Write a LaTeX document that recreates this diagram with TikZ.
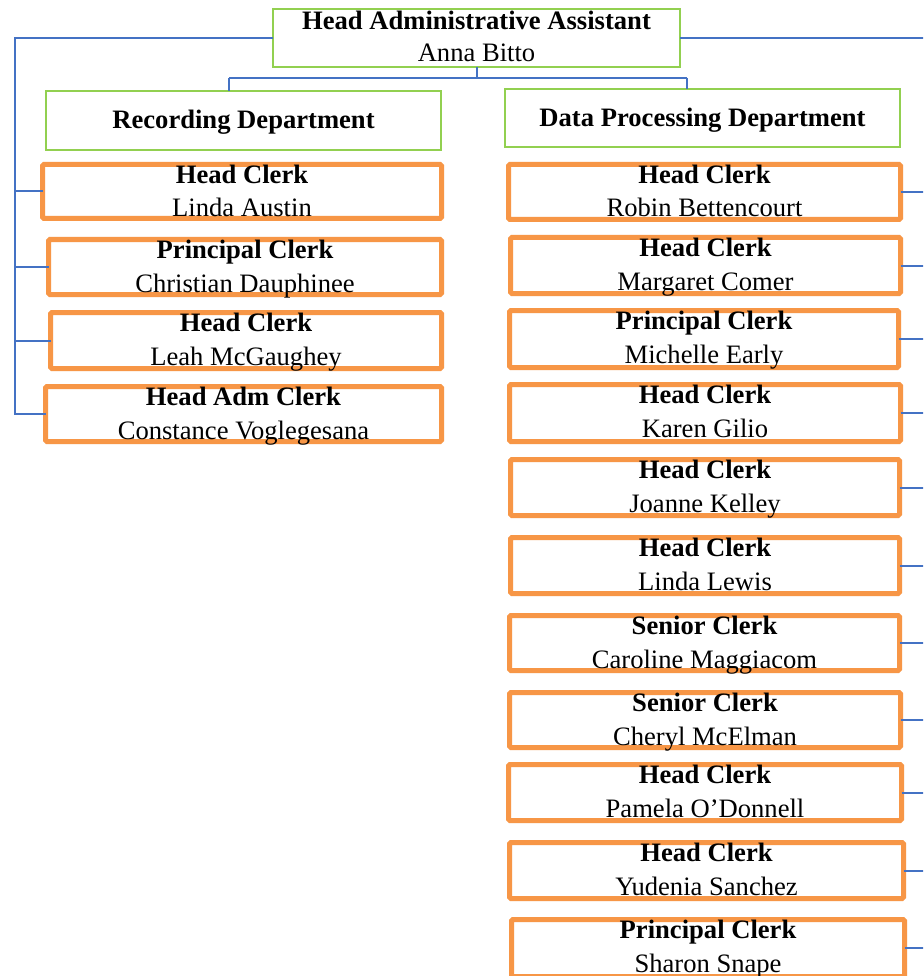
\documentclass[tikz,border=0pt]{standalone}
\usepackage{fontspec}
\setmainfont{Liberation Serif}
\usetikzlibrary{calc}
\definecolor{boxorange}{RGB}{247,150,70}
\definecolor{boxgreen}{RGB}{146,208,80}
\definecolor{linkblue}{RGB}{68,114,196}
\newcommand\basefont{\fontsize{26.6}{33}\selectfont}
\tikzset{
  cbox/.style={draw=boxorange, line width=5pt, rectangle, inner sep=0pt, outer sep=0pt, rounded corners=1.5pt},
  gbox/.style={draw=boxgreen, line width=1.4pt, rectangle, inner sep=0pt, outer sep=0pt},
  txt/.style={anchor=base, inner sep=0pt, font=\basefont},
  btxt/.style={anchor=base, inner sep=0pt, font=\basefont\bfseries},
  conn/.style={draw=linkblue, line width=2pt},
}
% #1 name, #2 x1, #3 y1, #4 x2, #5 y2 (outer edges), #6 title, #7 person
\newcommand\clerkbox[7]{%
  \node[cbox, minimum width={(#4-#2-5)*1pt}, minimum height={(#5-#3-5)*1pt}] (#1) at ({(#2+#4)/2},{(#3+#5)/2}) {};
  \node[btxt] (#1t) at ({(#2+#4)/2},{#3+21.5}) {#6};
  \node[txt] (#1n) at ({(#2+#4)/2},{#3+55}) {#7};
}
\begin{document}
\begin{tikzpicture}[x=1pt, y=-1pt]
\useasboundingbox (0,0) rectangle (923,976);
\fill[white] (0,0) rectangle (923,976);
\clip (0,0) rectangle (923,976);

% head
\node[gbox, minimum width=407pt, minimum height=58pt] (head) at (476.5,38) {};
\node[btxt] (headt) at (476.5,29.5) {Head Administrative Assistant};
\node[txt] (headn) at (476.5,62) {Anna Bitto};

% departments
\node[gbox, minimum width=395pt, minimum height=59pt] (rec) at (243.5,120.5) {};
\node[btxt] (rect) at (243.5,129) {Recording Department};
\node[gbox, minimum width=395pt, minimum height=58pt] (dp) at (702.5,118) {};
\node[btxt] (dpt) at (702.5,127) {Data Processing Department};

% left column
\clerkbox{l1}{40}{162}{444}{221}{Head Clerk}{Linda Austin}
\clerkbox{l2}{46}{237}{444}{297}{Principal Clerk}{Christian Dauphinee}
\clerkbox{l3}{48}{310}{444}{371}{Head Clerk}{Leah McGaughey}
\clerkbox{l4}{43}{384}{444}{444}{Head Adm Clerk}{Constance Voglegesana}

% right column
\clerkbox{r1}{506}{162}{903}{222}{Head Clerk}{Robin Bettencourt}
\clerkbox{r2}{508}{235}{903}{296}{Head Clerk}{Margaret Comer}
\clerkbox{r3}{507}{308}{901}{370}{Principal Clerk}{Michelle Early}
\clerkbox{r4}{507}{382}{903}{444}{Head Clerk}{Karen Gilio}
\clerkbox{r5}{508}{457}{902}{518}{Head Clerk}{Joanne Kelley}
\clerkbox{r6}{508}{535}{902}{596}{Head Clerk}{Linda Lewis}
\clerkbox{r7}{507}{613}{902}{673}{Senior Clerk}{Caroline Maggiacom}
\clerkbox{r8}{507}{690}{903}{750}{Senior Clerk}{Cheryl McElman}
\clerkbox{r9}{506}{762}{904}{823}{Head Clerk}{Pamela O’Donnell}
\clerkbox{r10}{507}{840}{906}{901}{Head Clerk}{Yudenia Sanchez}
\clerkbox{r11}{509}{917}{907}{979}{Principal Clerk}{Sharon Snape}

% connector coordinates
\coordinate (lb) at (15,0);
\coordinate (rb) at (926,0);
\coordinate (by) at (0,78);
\coordinate (dl) at (229,0);
\coordinate (dr) at (687,0);

% head to departments
\draw[conn] (head.south) -- (head.south |- by);
\draw[conn] (dl |- by) -- (dr |- by);
\draw[conn] (dl |- by) -- (dl |- rec.north);
\draw[conn] (dr |- by) -- (dr |- dp.north);

% left bus
\draw[conn, line join=miter] (head.west) -- (head.west -| lb) -- (lb |- l4.west) -- (l4.west);
\foreach \n in {l1,l2,l3} \draw[conn] (\n.west -| lb) -- (\n.west);

% right bus
\draw[conn] (head.east) -- (head.east -| rb) -- (rb |- r11.east);
\foreach \n in {r1,r2,r3,r4,r5,r6,r7,r8,r9,r10,r11} \draw[conn] (\n.east) -- (\n.east -| rb);
\end{tikzpicture}
\end{document}
